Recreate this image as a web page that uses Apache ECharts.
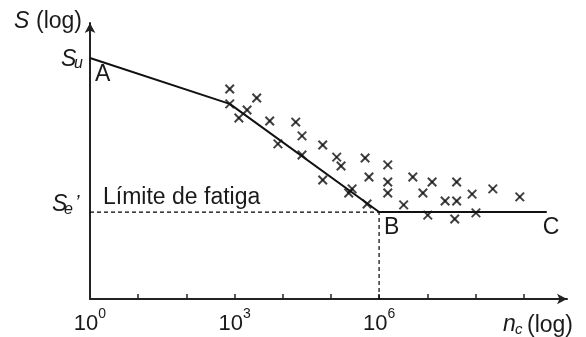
<!DOCTYPE html>
<html><head><meta charset="utf-8">
<script src="https://cdn.jsdelivr.net/npm/echarts@6/dist/echarts.min.js"></script>
<style>html,body{margin:0;padding:0;background:#fff}#main{width:586px;height:337px}</style>
</head><body><div id="main"></div>
<script>
// log10(n_c) and log S (arbitrary log units) of the test points
const nLog = [2.90,2.90,3.46,3.26,3.09,3.73,4.27,4.40,3.90,4.40,4.83,5.12,5.21,5.71,4.83,5.79,5.44,5.37,5.75,6.18,6.18,6.18,6.70,7.10,6.91,6.51,7.01,7.37,7.61,7.61,7.57,7.93,8.36,8.92,8.01];
const sLog = [7.61,7.07,7.28,6.85,6.56,6.45,6.41,5.91,5.62,5.22,5.58,5.14,4.82,5.11,4.31,4.42,3.99,3.84,3.44,4.86,4.24,3.84,4.42,4.24,3.84,3.41,3.04,3.55,3.55,4.24,2.90,3.80,3.99,3.70,3.12];
// S-N curve: A, knee, B, C
const curveN = [0, 2.9, 6.0, 9.48];
const curveS = [8.73, 7.07, 3.15, 3.15];
const SU = curveS[0], SE = curveS[2], NB = curveN[2];
const xTickValues = [1,2,3,4,5,6,7,8,9];
const xLabelValues = [0,3,6];

const FONT = '"Liberation Sans", Arial, sans-serif';
const TXT = '#1a1a1a';
const pts = nLog.map((v,i)=>[v, sLog[i]]);
const curve = curveN.map((v,i)=>[v, curveS[i]]);

const chart = echarts.init(document.getElementById('main'));
chart.setOption({
  animation:false,
  backgroundColor:'#fff',
  grid:{left:90, top:23, right:19, bottom:38},
  xAxis:{type:'value', min:0, max:9.9,
    axisLine:{show:true, lineStyle:{color:'#222', width:2}, symbol:['none','arrow'], symbolSize:[8,10]},
    axisTick:{show:true, inside:true, length:5, lineStyle:{color:'#222', width:1.5}, customValues:xTickValues},
    axisLabel:{show:true, customValues:xLabelValues, margin:8, color:TXT,
      formatter:(v)=>'{b|10}{s|'+Math.round(v)+'}',
      rich:{b:{fontSize:22, fontFamily:FONT, color:TXT, lineHeight:28, verticalAlign:'bottom'},
            s:{fontSize:14, fontFamily:FONT, color:TXT, lineHeight:10, verticalAlign:'top'}}},
    splitLine:{show:false}},
  yAxis:{type:'value', min:0, max:10,
    axisLine:{show:true, lineStyle:{color:'#222', width:2}, symbol:['none','arrow'], symbolSize:[8,10]},
    axisTick:{show:false}, axisLabel:{show:false}, splitLine:{show:false}},
  series:[
    {type:'line', data:[[0,SE],[NB,SE]], symbol:'none', lineStyle:{color:'#000', width:1.2, type:[4,3]}, z:1},
    {type:'line', data:[[NB,0],[NB,SE]], symbol:'none', lineStyle:{color:'#000', width:1.2, type:[4,3]}, z:1},
    {type:'line', data:curve, symbol:'none', lineStyle:{color:'#111', width:2}, z:3},
    {type:'scatter', data:pts, symbol:'rect', symbolSize:[12,2], symbolRotate:45, itemStyle:{color:'#111'}, z:4},
    {type:'scatter', data:pts, symbol:'rect', symbolSize:[12,2], symbolRotate:-45, itemStyle:{color:'#111'}, z:4}
  ]
});

const p = (x,y)=>chart.convertToPixel({gridIndex:0},[x,y]);
const O = p(0,0), TOP = p(0,10), SUp = p(0,SU), SEp = p(0,SE), Bp = p(NB,SE), Cp = p(curveN[3],SE), XE = p(9.9,0);
function t(x,y,text,size,italic,align){
  return {type:'text', x:x, y:y, z:10, style:{text:text, fontSize:size, fontFamily:FONT, fontStyle:italic?'italic':'normal', fill:TXT, align:align||'left', verticalAlign:'middle'}};
}
chart.setOption({graphic:[
  t(TOP[0]-76, TOP[1]-1, 'S', 23, true),
  t(TOP[0]-8, TOP[1]-1, '(log)', 23, false, 'right'),
  t(SUp[0]-29, SUp[1]+2, 'S', 23, true),
  t(SUp[0]-16, SUp[1]+5, 'u', 16, true),
  t(SEp[0]-38, SEp[1]-7, 'S', 23, true),
  t(SEp[0]-26, SEp[1]-2.5, 'e', 16, true),
  t(SEp[0]-15, SEp[1]-9, '\u2019', 20, true),
  t(SUp[0]+5, SUp[1]+17, 'A', 23, false),
  t(SEp[0]+13, SEp[1]-14.5, 'Límite de fatiga', 23, false),
  t(Bp[0]+5, Bp[1]+16, 'B', 23, false),
  t(Cp[0]-4, Cp[1]+16, 'C', 23, false),
  t(XE[0]-64, O[1]+26, 'n', 23, true),
  t(XE[0]-52, O[1]+30.5, 'c', 15, true),
  t(XE[0]-40, O[1]+27, '(log)', 23, false)
]});
</script></body></html>
